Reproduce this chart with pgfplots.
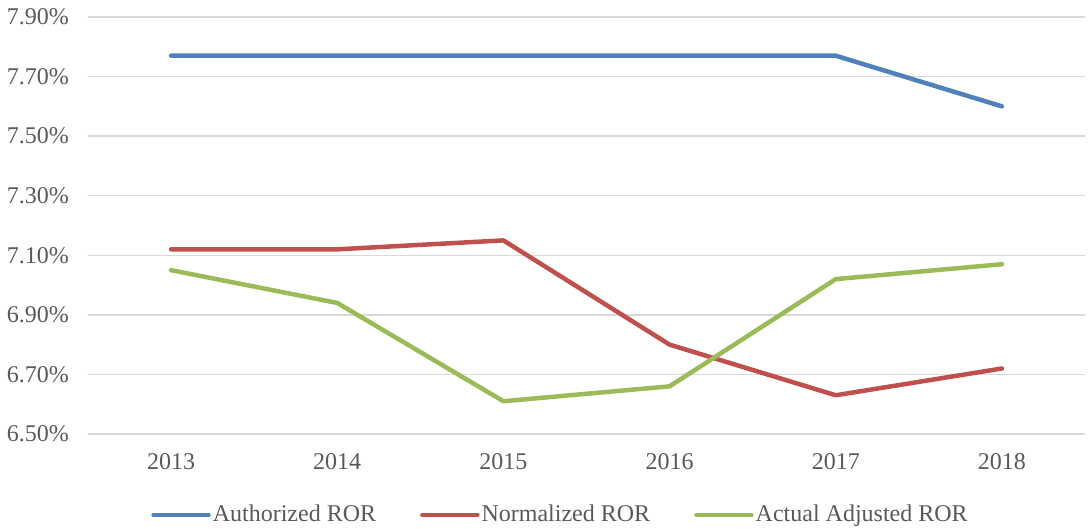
\documentclass[border=0pt]{standalone}
\usepackage{fontspec}
\setmainfont{Liberation Serif}
\usepackage{pgfplots}
\pgfplotsset{compat=1.18}
\usetikzlibrary{calc}
\definecolor{cblue}{HTML}{4F81BD}
\definecolor{cred}{HTML}{C0504D}
\definecolor{cgreen}{HTML}{9BBB59}
\definecolor{ctext}{HTML}{595959}
\definecolor{cgrid}{HTML}{D9D9D9}
\begin{document}
\begin{tikzpicture}
\begin{axis}[
  name=ax,
  scale only axis,
  width=498.5pt, height=208.5pt,
  xmin=2012.5, xmax=2018.5,
  ymin=6.5, ymax=7.9,
  xtick={2013,2014,2015,2016,2017,2018},
  ytick={6.5,6.7,6.9,7.1,7.3,7.5,7.7,7.9},
  xticklabel style={/pgf/number format/1000 sep={}},
  yticklabel={\pgfmathprintnumber[fixed,fixed zerofill,precision=2]{\tick}\%},
  /pgf/number format/assume math mode=true,
  tick label style={font=\fontsize{12}{14}\selectfont, text=ctext},
  major tick length=0pt,
  axis x line*=bottom, axis y line*=left,
  x axis line style={draw=cgrid, line width=0.75pt},
  y axis line style={draw=none},
  ymajorgrids,
  grid style={draw=cgrid, line width=0.75pt},
  yticklabel style={xshift=-6pt},
  xticklabel style={yshift=-6pt},
  legend columns=3,
  legend style={draw=none, font=\fontsize{12}{14}\selectfont, text=ctext,
    at={($(0.5,0)+(-13pt,-40.5pt)$)}, anchor=center,
    /tikz/every even column/.append style={column sep=21pt},
    nodes={inner xsep=1pt},
    inner sep=0pt},
  legend image code/.code={\draw[#1, line cap=round] (0pt,0pt) -- (27.5pt,0pt);},
  every axis plot/.append style={line width=2.25pt, line cap=round, line join=round},
]
\addplot[cblue] coordinates {(2013,7.77) (2014,7.77) (2015,7.77) (2016,7.77) (2017,7.77) (2018,7.60)};
\addlegendentry{Authorized ROR}
\addplot[cred] coordinates {(2013,7.12) (2014,7.12) (2015,7.15) (2016,6.80) (2017,6.63) (2018,6.72)};
\addlegendentry{Normalized ROR}
\addplot[cgreen] coordinates {(2013,7.05) (2014,6.94) (2015,6.61) (2016,6.66) (2017,7.02) (2018,7.07)};
\addlegendentry{Actual Adjusted ROR}
\end{axis}
\pgfresetboundingbox
\path[use as bounding box] ($(ax.south west)+(-44pt,-47.5pt)$) rectangle ($(ax.north east)+(1.5pt,8.5pt)$);
\end{tikzpicture}
\end{document}
